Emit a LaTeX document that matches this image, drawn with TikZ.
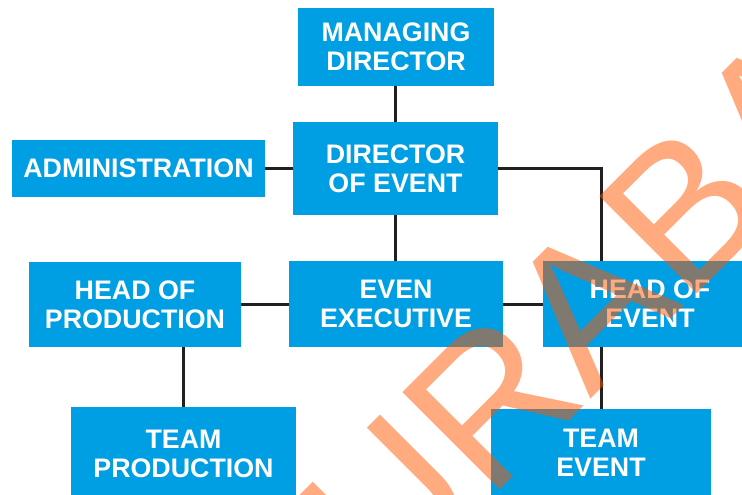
\documentclass[tikz,border=0pt]{standalone}
\usepackage{fontspec}
\setmainfont{Liberation Sans}
\usetikzlibrary{backgrounds}
\definecolor{boxblue}{RGB}{0,158,226}
\definecolor{linec}{RGB}{35,31,32}
\definecolor{wmorange}{RGB}{255,85,0}
\begin{document}
\begin{tikzpicture}[x=1pt,y=-1pt,
  orgbox/.style={fill=boxblue, text=white, font=\fontsize{26.8}{29}\selectfont\bfseries, align=center, inner sep=0pt},
  conn/.style={draw=linec, line width=3pt}]
\useasboundingbox (0,0) rectangle (742,495);
\clip (0,0) rectangle (742,495);
\node[orgbox, minimum width=196pt, minimum height=78pt] (md) at (396,47) {MANAGING\\DIRECTOR};
\node[orgbox, minimum width=205pt, minimum height=93pt] (doe) at (395.5,168.5) {DIRECTOR\\OF EVENT};
\node[orgbox, minimum width=253pt, minimum height=57pt] (adm) at (138.5,168.5) {ADMINISTRATION};
\node[orgbox, minimum width=212pt, minimum height=85pt] (hop) at (135,304.5) {HEAD OF\\PRODUCTION};
\node[orgbox, minimum width=214pt, minimum height=86pt] (ee) at (396,304) {EVEN\\EXECUTIVE};
\node[orgbox, minimum width=214pt, minimum height=86pt] (hoe) at (650,304) {HEAD OF\\EVENT};
\node[orgbox, minimum width=225pt, minimum height=94pt] (tp) at (183.5,454) {TEAM\\PRODUCTION};
\node[orgbox, minimum width=220pt, minimum height=88pt] (tev) at (601,453) {TEAM\\EVENT};
\begin{scope}[on background layer]
\draw[conn] (md.south -| 395,0) -- (doe.north -| 395,0);
\draw[conn] (adm.east) -- (adm.east -| doe.west);
\draw[conn] (doe.east) -| (tev.north);
\draw[conn] (doe.south -| 395,0) -- (ee.north -| 395,0);
\draw[conn] (hop.east) -- (hop.east -| ee.west);
\draw[conn] (ee.east) -- (ee.east -| hoe.west);
\draw[conn] (tp.north |- hop.south) -- (tp.north);
\end{scope}
\node[rotate=45, anchor=base west, inner sep=0pt, text=wmorange, text opacity=0.5, font=\fontsize{200}{200}\selectfont] (wm) at (292,698) {SURABAYA};
\end{tikzpicture}
\end{document}
